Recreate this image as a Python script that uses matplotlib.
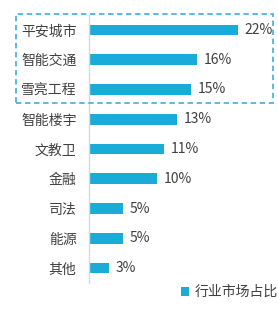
import matplotlib.pyplot as plt
from matplotlib.patches import Rectangle

plt.rcParams['font.family'] = ['Noto Sans CJK SC', 'DejaVu Sans']

categories = ["平安城市", "智能交通", "雪亮工程", "智能楼宇", "文教卫", "金融", "司法", "能源", "其他"]
values = [22, 16, 15, 13, 11, 10, 5, 5, 3]
legend_label = "行业市场占比"

bar_color = "#1aacd9"
text_color = "#404040"

fig = plt.figure(figsize=(2.78, 3.14), dpi=100)
ax = fig.add_axes([89 / 278, 1 - 283 / 314, 189 / 278, 268 / 314])

y = list(range(len(categories)))
bars = ax.barh(y, values, height=0.36, color=bar_color, label=legend_label)
ax.set_ylim(len(categories) - 0.5, -0.5)
ax.set_xlim(0, 27.9)

for yi, v in zip(y, values):
    ax.text(v + 1.0, yi, f"{v}%", va="center", ha="left", fontsize=10, color=text_color)

ax.set_yticks(y)
ax.set_yticklabels(categories, fontsize=10, color=text_color)
ax.tick_params(axis="y", length=0, pad=9)
ax.set_xticks([])
for s in ["top", "right", "bottom"]:
    ax.spines[s].set_visible(False)
ax.spines["left"].set_color("#d9d9d9")
ax.spines["left"].set_linewidth(1)

# dashed highlight box around the top three
box = Rectangle((16 / 278, 1 - 103 / 314), 257 / 278, 89 / 314, transform=fig.transFigure,
                fill=False, edgecolor="#4fb3df", linestyle=(0, (3, 2)), linewidth=1.3, clip_on=False)
fig.patches.append(box)

fig.legend(handles=[bars], labels=[legend_label], loc="center left",
           bbox_to_anchor=(168 / 278, 1 - 292 / 314), frameon=False, fontsize=10,
           handlelength=0.6, handleheight=0.6, handletextpad=0.4, labelcolor=text_color)

fig.savefig("out.png", dpi=100)
